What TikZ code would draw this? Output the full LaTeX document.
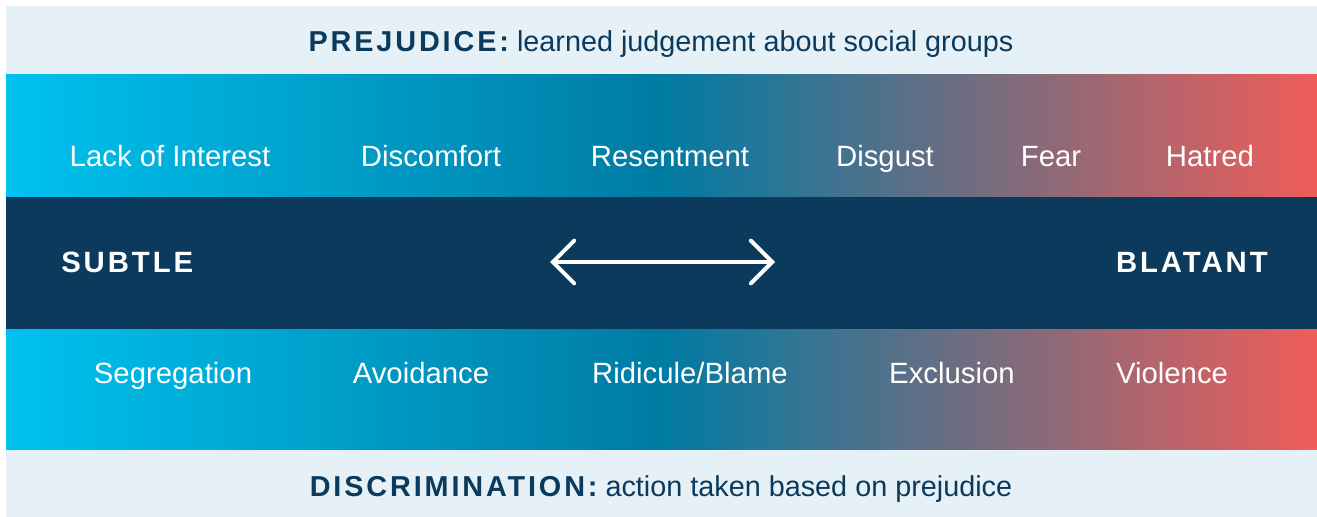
\documentclass[tikz,border=0pt]{standalone}
\usepackage{fontspec}
\setmainfont{Liberation Sans}
\usepackage{tikz}
\usetikzlibrary{arrows.meta}

\definecolor{bandlight}{HTML}{E6F1F7}
\definecolor{navy}{HTML}{0B3A5C}
\definecolor{cyanL}{HTML}{00C2EF}
\definecolor{tealM}{HTML}{007BA3}
\definecolor{coralR}{HTML}{EF5D5A}
\pgfdeclarehorizontalshading{spectrum}{100bp}{color(0bp)=(cyanL); color(25bp)=(cyanL); color(50bp)=(tealM); color(75bp)=(coralR); color(100bp)=(coralR)}

\begin{document}
\begin{tikzpicture}[x=0.75pt, y=-0.75pt,
    every node/.style={inner sep=0pt, anchor=base},
    feel/.style={text=white, font=\fontsize{22}{26}\selectfont},
    pole/.style={text=white, font=\fontsize{22}{26}\selectfont\bfseries\addfontfeatures{LetterSpace=10}},
    head/.style={text=navy, font=\fontsize{21.6}{26}\selectfont}]
        \fill[white] (0,0) rectangle (1317,517);
        \useasboundingbox (0,0) rectangle (1317,517);

        % bands
        \fill[bandlight] (6,6) rectangle (1317,75);
        \shade[shading=spectrum] (6,75) rectangle (1317,197);
        \fill[navy] (6,197) rectangle (1317,329);
        \shade[shading=spectrum] (6,329) rectangle (1317,450);
        \fill[bandlight] (6,450) rectangle (1317,517);

        % headers
        \node[head] (pre) at (661,52)
            {{\bfseries\addfontfeatures{LetterSpace=10}PREJUDICE:} learned judgement about social groups};
        \node[head] (dis) at (661,496)
            {{\bfseries\addfontfeatures{LetterSpace=10}DISCRIMINATION:} action taken based on prejudice};

        % feelings
        \node[feel] (lack) at (170,166) {Lack of Interest};
        \node[feel] (discomf) at (431,166) {Discomfort};
        \node[feel] (resent) at (670,166) {Resentment};
        \node[feel] (disgust) at (885,166) {Disgust};
        \node[feel] (fear) at (1051,166) {Fear};
        \node[feel] (hatred) at (1210,166) {Hatred};

        % scale
        \node[pole, anchor=base west] (subtle) at (61,272) {SUBTLE};
        \node[pole, anchor=base east] (blatant) at (1268,272) {BLATANT};
        \coordinate (arrL) at (550,262);
        \coordinate (arrR) at (775,262);
        \draw[white, line width=3pt, line cap=round,
            {Straight Barb[length=16pt, width=32pt, line cap=round]}-{Straight Barb[length=16pt, width=32pt, line cap=round]}]
            (arrL) -- (arrR);

        % actions
        \node[feel] (segr) at (173,383) {Segregation};
        \node[feel] (avoid) at (421,383) {Avoidance};
        \node[feel] (ridic) at (690,383) {Ridicule/Blame};
        \node[feel] (excl) at (952,383) {Exclusion};
        \node[feel] (viol) at (1172,383) {Violence};

    \end{tikzpicture}
\end{document}
